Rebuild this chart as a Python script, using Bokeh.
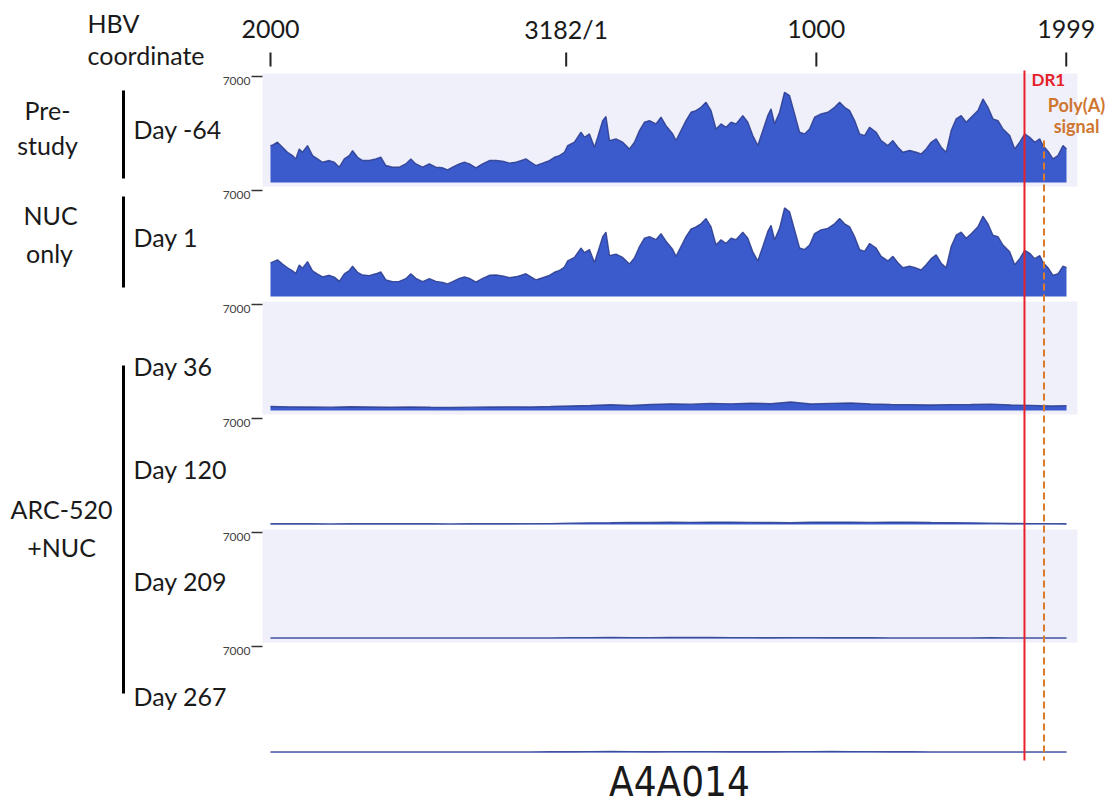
from bokeh.plotting import figure
from bokeh.models import Range1d, ColumnDataSource
from bokeh.embed import file_html
from bokeh.resources import INLINE
from bokeh.core.properties import value

# ---------------- data ----------------
GENOME_LEN = 3182
START_COORD = 2000
TRACK_MAX = 7000

tick_coords = [2000, 3182, 1000, 1999]
tick_labels = ["2000", "3182/1", "1000", "1999"]

DR1_COORD = 1832
POLYA_COORD = 1910

sample_id = "A4A014"
track_days = ["Day -64", "Day 1", "Day 36", "Day 120", "Day 209", "Day 267"]
group_labels = [["Pre-", "study"], ["NUC", "only"], ["ARC-520", "+NUC"]]

# positions along the linearised genome (nt from coordinate 2000)
pos_fine = [0, 5, 28, 48, 68, 88, 101, 115, 128, 148, 168, 188, 208, 235, 255, 275, 295, 315,
            328, 348, 368, 395, 421, 441, 461, 488, 515, 541, 561, 581, 608, 635, 661, 688, 708,
            728, 755, 775, 795, 821, 848, 875, 901, 928, 955, 981, 1001, 1021, 1041, 1061, 1088,
            1115, 1135, 1155, 1175, 1188, 1215, 1241, 1255, 1275, 1295, 1308, 1328, 1341, 1355,
            1381, 1408, 1435, 1455, 1475, 1495, 1515, 1541, 1561, 1581, 1608, 1621, 1641, 1661,
            1681, 1701, 1721, 1741, 1761, 1781, 1801, 1821, 1841, 1861, 1888, 1908, 1928, 1948,
            1968, 1988, 2001, 2015, 2035, 2055, 2075, 2095, 2115, 2135, 2155, 2175, 2201, 2228,
            2255, 2275, 2295, 2315, 2335, 2355, 2375, 2395, 2421, 2441, 2468, 2488, 2508, 2528,
            2555, 2581, 2601, 2621, 2641, 2661, 2681, 2701, 2721, 2741, 2761, 2781, 2801, 2828,
            2848, 2868, 2888, 2908, 2928, 2955, 2975, 2995, 3015, 3035, 3055, 3075, 3088, 3108,
            3128, 3148, 3168, 3182]

cov_day_m64 = [2440, 2440, 2660, 2330, 2000, 1780, 1560, 2220, 2000, 2440, 1780, 1560, 1340, 1450,
               1340, 1010, 1560, 1780, 2110, 1670, 1450, 1450, 1560, 1670, 1120, 1010, 1010, 1230,
               1560, 1230, 1010, 1230, 1010, 970, 840, 1010, 1230, 1340, 1230, 970, 1230, 1450,
               1450, 1410, 1280, 1340, 1450, 1560, 1340, 1120, 1280, 1450, 1670, 1780, 2000, 2440,
               2660, 3320, 2990, 3210, 2330, 2990, 4090, 4360, 2770, 2880, 2660, 2220, 2660, 3430,
               3980, 4090, 3870, 4310, 3760, 3200, 2770, 3430, 4090, 4640, 4750, 4970, 5300, 4750,
               3540, 3870, 3650, 3980, 3870, 4420, 3980, 3100, 2440, 3430, 4420, 4860, 3870, 4640,
               5960, 5740, 4530, 3320, 3210, 3540, 4310, 4530, 4640, 4970, 5300, 4970, 4750, 4090,
               3210, 3100, 3650, 3320, 2770, 2440, 2770, 2330, 2000, 2110, 2000, 1890, 2220, 2660,
               2880, 2330, 2000, 3430, 4200, 4420, 3980, 4310, 4750, 5520, 4970, 4200, 4090, 3540,
               3100, 2220, 2660, 3210, 2990, 2660, 2880, 2440, 2070, 1560, 1780, 2440, 2220]

cov_day_1 = [2200, 2250, 2420, 2150, 1900, 1700, 1520, 2080, 1870, 2300, 1700, 1480, 1300, 1400,
             1280, 1000, 1490, 1720, 2000, 1600, 1420, 1380, 1500, 1620, 1100, 980, 1000, 1180,
             1500, 1200, 980, 1180, 1000, 930, 830, 980, 1190, 1300, 1200, 950, 1190, 1400,
             1420, 1360, 1250, 1300, 1400, 1500, 1300, 1100, 1240, 1400, 1600, 1720, 1950, 2350,
             2580, 3200, 2900, 3100, 2250, 2900, 3950, 4250, 2700, 2800, 2580, 2150, 2550, 3300,
             3850, 3950, 3750, 4150, 3650, 3100, 2650, 3300, 3950, 4450, 4600, 4800, 5150, 4600,
             3400, 3750, 3500, 3850, 3750, 4250, 3850, 2950, 2350, 3300, 4300, 4700, 3750, 4500,
             5850, 5600, 4400, 3200, 3100, 3400, 4150, 4400, 4500, 4800, 5150, 4800, 4600, 3950,
             3100, 2980, 3500, 3200, 2650, 2350, 2650, 2230, 1900, 2000, 1880, 1750, 2100, 2500,
             2750, 2200, 1900, 3300, 4050, 4250, 3850, 4150, 4600, 5300, 4800, 4050, 3950, 3400,
             2950, 2100, 2500, 3050, 2850, 2500, 2700, 2250, 1900, 1400, 1500, 2000, 1900]

pos_coarse = [0, 80, 160, 240, 320, 400, 480, 560, 640, 720, 800, 880, 960, 1040, 1120, 1200,
              1280, 1360, 1440, 1520, 1600, 1680, 1760, 1840, 1920, 2000, 2080, 2160, 2240, 2320,
              2400, 2480, 2560, 2640, 2720, 2800, 2880, 2960, 3040, 3120, 3182]

cov_day_36 = [260, 240, 230, 220, 250, 230, 210, 230, 210, 200, 220, 230, 240, 230, 260, 300,
              330, 380, 330, 400, 440, 420, 470, 440, 480, 450, 560, 430, 470, 500, 430, 400,
              380, 360, 390, 400, 420, 360, 340, 300, 320]

cov_day_120 = [50, 45, 50, 40, 45, 50, 45, 50, 45, 40, 45, 50, 50, 55, 60, 90, 110, 120, 140,
               130, 150, 140, 160, 150, 140, 130, 120, 150, 160, 150, 140, 160, 150, 130, 120,
               110, 90, 70, 60, 55, 50]

cov_day_209 = [40, 40, 40, 40, 40, 40, 40, 40, 40, 40, 40, 40, 40, 40, 40, 55, 60, 65, 60, 55,
               65, 70, 65, 60, 55, 50, 60, 55, 50, 45, 45, 40, 40, 40, 40, 40, 45, 40, 40, 40, 40]

cov_day_267 = [40, 40, 40, 40, 40, 40, 40, 40, 40, 40, 40, 40, 40, 40, 45, 50, 60, 65, 60, 50,
               55, 60, 55, 50, 45, 50, 55, 60, 65, 60, 55, 50, 45, 40, 40, 40, 40, 40, 40, 40, 40]

tracks = [(pos_fine, cov_day_m64), (pos_fine, cov_day_1), (pos_coarse, cov_day_36),
          (pos_coarse, cov_day_120), (pos_coarse, cov_day_209), (pos_coarse, cov_day_267)]


def offset(c):
    return (c - START_COORD) % GENOME_LEN


# ---------------- layout (pixel geometry of the canvas) ----------------
W, H = 1109, 810
X0_PX, X1_PX = 270, 1066          # genome start/end columns
XS = (X1_PX - X0_PX) / GENOME_LEN  # px per nt
BASE0_PX = 182                    # baseline of first track
STEP_PX = 114                     # distance between tracks
CPP = TRACK_MAX / 106.0           # coverage per px
S = STEP_PX * CPP                 # track spacing in data units
BL = 0.44                         # text baseline correction (fraction of font size)


def gx(px):
    return (px - X0_PX) / XS


def gy(py):
    return (BASE0_PX - py) * CPP


def gyt(py, size):
    """y for a text whose alphabetic baseline should sit at pixel row py"""
    return gy(py - BL * size)


p = figure(width=W, height=H, output_backend="svg", toolbar_location=None, title=None,
           x_range=Range1d(gx(0), gx(W)), y_range=Range1d(gy(H), gy(0)),
           x_axis_location=None, y_axis_location=None,
           min_border_left=0, min_border_top=0, min_border_right=0, min_border_bottom=0)
p.outline_line_color = None
p.xgrid.visible = False
p.ygrid.visible = False
p.background_fill_color = "white"
p.border_fill_color = "white"

FONT = value("Lato")
TEXT_COLOR = "#1a1a1a"

# ---- top coordinate ruler ----
xt = [offset(c) for c in tick_coords]
p.segment(x0=xt, x1=xt, y0=[gy(52)] * len(xt), y1=[gy(66)] * len(xt),
          line_color="#222222", line_width=2)
p.text(x=xt, y=[gyt(39, 25)] * len(xt), text=tick_labels, text_font=FONT, text_font_size="25px",
       text_color=TEXT_COLOR, text_align="center", text_baseline="alphabetic")
p.text(x=[gx(87), gx(87)], y=[gyt(33, 25), gyt(65, 25)], text=["HBV", "coordinate"],
       text_font=FONT, text_font_size="25px", text_color=TEXT_COLOR, text_align="left",
       text_baseline="alphabetic")

# ---- panel backgrounds ----
for i in range(0, len(tracks), 2):
    base = -i * S
    p.quad(left=gx(262), right=gx(1077), bottom=base - 4 * CPP, top=base + 109 * CPP,
           fill_color="#f0f0fa", line_color=None)

# ---- per-track 7000 scale marks ----
yt = [TRACK_MAX - i * S for i in range(len(tracks))]
p.segment(x0=[gx(251)] * len(yt), x1=[gx(262)] * len(yt), y0=yt, y1=yt,
          line_color="#333333", line_width=1.5)
p.text(x=[gx(250)] * len(yt), y=[v - 0.5 * CPP for v in yt], text=[str(TRACK_MAX)] * len(yt),
       text_font=FONT, text_font_size="12px", text_color="#444444",
       text_align="right", text_baseline="top")

# ---- coverage tracks ----
FILL = "#3b5bcc"
EDGE = "#2a3b8c"
for i, (pos, cov) in enumerate(tracks):
    base = -i * S
    src = ColumnDataSource(dict(x=pos, y1=[base] * len(pos), y2=[base + v for v in cov]))
    p.varea(x="x", y1="y1", y2="y2", source=src, fill_color=FILL)
    p.line(x="x", y="y2", source=src, line_color=EDGE, line_width=1.4, line_alpha=0.85)

# ---- DR1 and poly(A) markers ----
p.segment(x0=offset(DR1_COORD), x1=offset(DR1_COORD), y0=gy(70), y1=gy(760),
          line_color="#e8212b", line_width=2)
p.segment(x0=offset(POLYA_COORD), x1=offset(POLYA_COORD), y0=gy(140), y1=gy(760),
          line_color="#d97b2b", line_width=2, line_dash="7 4")
p.text(x=[gx(1031)], y=[gyt(86, 17)], text=["DR1"], text_color="#e52129", text_font=FONT,
       text_font_style="bold", text_font_size="17px", text_align="left", text_baseline="alphabetic")
p.text(x=[gx(1076), gx(1076)], y=[gyt(112, 18), gyt(133, 18)], text=["Poly(A)", "signal"],
       text_color="#cf7630", text_font=FONT, text_font_style="bold", text_font_size="18px",
       text_align="center", text_baseline="alphabetic")

# ---- left-hand labels ----
day_base = [139, 247, 376, 479, 591, 706]
p.text(x=[gx(133)] * len(track_days), y=[gyt(b, 25) for b in day_base],
       text=track_days, text_font=FONT, text_font_size="25px", text_color=TEXT_COLOR,
       text_align="left", text_baseline="alphabetic")
grp_x = [47, 47, 50, 49, 61, 61]
grp_y = [120, 155, 225, 263, 519, 557]
grp_txt = [t for g in group_labels for t in g]
p.text(x=[gx(v) for v in grp_x], y=[gyt(v, 25) for v in grp_y], text=grp_txt, text_font=FONT,
       text_font_size="25px", text_color=TEXT_COLOR, text_align="center",
       text_baseline="alphabetic")
bars = [(90, 178), (196, 287), (365, 693)]
p.segment(x0=[gx(123)] * 3, x1=[gx(123)] * 3, y0=[gy(a) for a, b in bars],
          y1=[gy(b) for a, b in bars], line_color="black", line_width=3)

# ---- sample name ----
p.text(x=[gx(679)], y=[gyt(799, 40)], text=[sample_id], text_color=TEXT_COLOR,
       text_font=value("'Liberation Sans Narrow', 'DejaVu Sans Condensed', sans-serif"),
       text_font_size="40px", text_align="center", text_baseline="alphabetic")

open("out.html", "w").write(file_html(p, INLINE))
